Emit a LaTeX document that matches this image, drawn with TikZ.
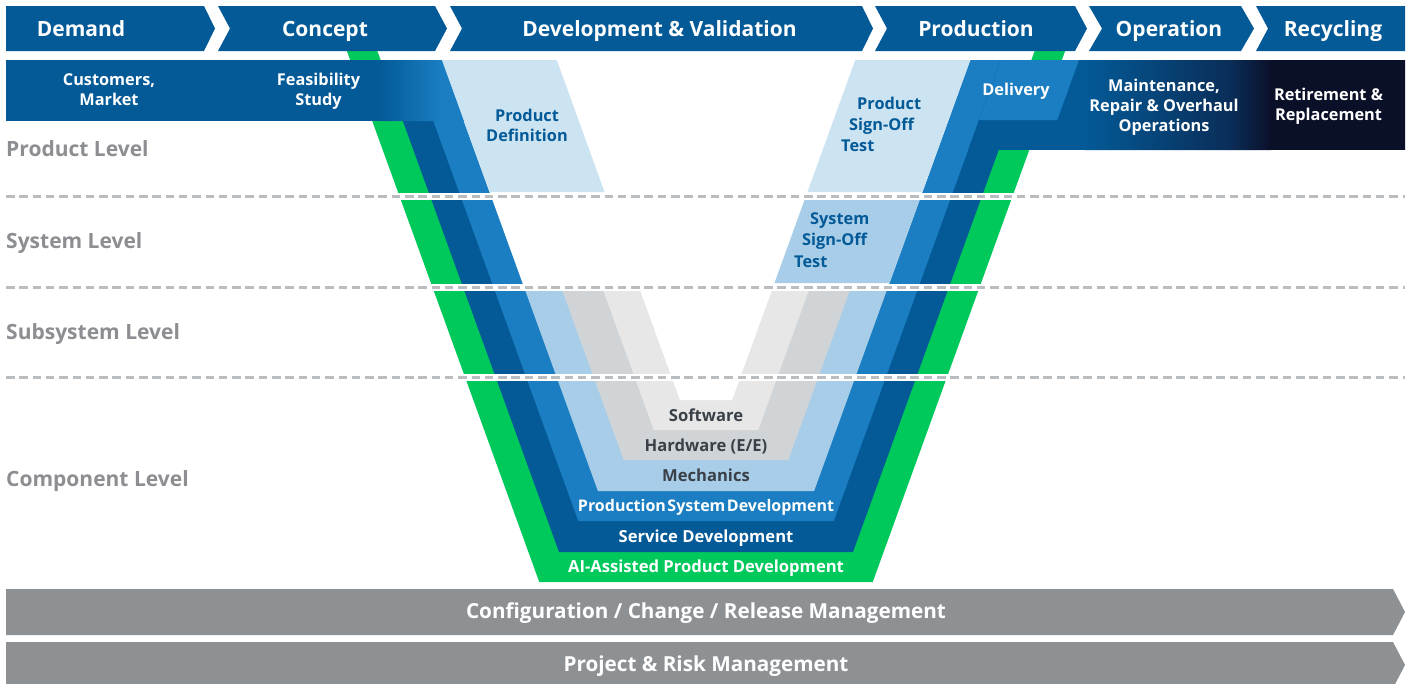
\documentclass[tikz,border=0pt]{standalone}
\usepackage{fontspec}
\IfFontExistsTF{Open Sans Bold}
 {\setmainfont{Open Sans}[BoldFont={Open Sans Bold}]}
 {\IfFontExistsTF{NotoSans-Bold.otf}
   {\setmainfont{NotoSans}[Extension=.otf,UprightFont=*-Regular,BoldFont=*-Bold]}
   {\setmainfont{Noto Sans}[BoldFont={Noto Sans},BoldFeatures={FakeBold=3.5}]}}
\definecolor{dblue}{RGB}{3,90,151}
\definecolor{mblue}{RGB}{27,126,194}
\definecolor{lblue}{RGB}{167,205,232}
\definecolor{pblue}{RGB}{204,227,242}
\definecolor{sgray}{RGB}{208,212,215}
\definecolor{lgray}{RGB}{231,231,231}
\definecolor{vgreen}{RGB}{0,201,92}
\definecolor{navy}{RGB}{11,16,41}
\definecolor{midnavy}{RGB}{10,45,88}
\definecolor{bargray}{RGB}{142,145,148}
\definecolor{lvlgray}{RGB}{140,142,145}
\definecolor{dtext}{RGB}{58,64,71}
\definecolor{dashgray}{RGB}{186,189,192}
% nested V layer: #1 = offset a, #2 = bottom y, #3 = colour
\newcommand{\Vtrap}[3]{\fill[#3] (#1,0) -- ({#1+0.3623*#2},#2) -- ({1412-#1-0.3623*#2},#2) -- ({1412-#1},0) -- cycle;}
% left parallelogram between offsets #1,#2 from y=#3 to y=#4
\newcommand{\Vlpar}[5]{\fill[#5] ({#1+0.3623*#3},#3) -- ({#2+0.3623*#3},#3) -- ({#2+0.3623*#4},#4) -- ({#1+0.3623*#4},#4) -- cycle;}
% right parallelogram
\newcommand{\Vrpar}[5]{\fill[#5] ({1412-#1-0.3623*#3},#3) -- ({1412-#2-0.3623*#3},#3) -- ({1412-#2-0.3623*#4},#4) -- ({1412-#1-0.3623*#4},#4) -- cycle;}
\newcommand{\Vall}{\Vtrap{328.4}{582}{vgreen}\Vtrap{359}{552}{dblue}\Vtrap{389.5}{521}{mblue}\Vtrap{420}{491}{lblue}\Vtrap{457}{460}{sgray}\Vtrap{498}{430}{lgray}\Vtrap{535}{400}{white}}
\newcommand{\Vthree}{\Vtrap{328.4}{582}{vgreen}\Vtrap{359}{552}{dblue}\Vtrap{389.5}{521}{mblue}\Vtrap{420}{491}{white}}
\begin{document}
\begin{tikzpicture}[x=1pt,y=-1pt,
  phase/.style={font=\fontsize{21}{25}\selectfont\bfseries,text=white,inner sep=0pt,anchor=base},
  subw/.style={font=\fontsize{16.3}{20}\selectfont\bfseries,text=white,inner sep=0pt,anchor=base},
  subb/.style={font=\fontsize{16.3}{20}\selectfont\bfseries,text=dblue,inner sep=0pt,anchor=base},
  subbl/.style={subb,anchor=base west},
  lvl/.style={font=\fontsize{21}{25}\selectfont\bfseries,text=lvlgray,inner sep=0pt,anchor=base west},
  vlab/.style={font=\fontsize{16.6}{20}\selectfont\bfseries,inner sep=0pt,anchor=base},
  barlab/.style={font=\fontsize{20.7}{24}\selectfont\bfseries,text=white,inner sep=0pt,anchor=base},
  lvline/.style={dashgray,line width=3pt,dash pattern=on 8.5pt off 4.8pt}]
\useasboundingbox (0,0) rectangle (1410,683);
\fill[white] (0,0) rectangle (1410,683);

% ---------- V: gap above band ----------
\begin{scope}\clip (0,50) rectangle (1410,60);
\Vtrap{328.4}{582}{vgreen}\Vtrap{359}{552}{white}
\end{scope}
% ---------- Product level ----------
\begin{scope}\clip (0,60) rectangle (1410,192);
\Vthree
\Vlpar{420}{535}{60}{192}{pblue}
\Vrpar{535}{420}{60}{192}{pblue}
\end{scope}
% ---------- System level ----------
\begin{scope}\clip (0,200) rectangle (1410,283);
\Vthree
\Vrpar{535}{420}{200}{283}{lblue}
\end{scope}
% ---------- Subsystem level ----------
\begin{scope}\clip (0,291) rectangle (1410,373);
\Vall
\end{scope}
% ---------- Component level ----------
\begin{scope}\clip (0,381) rectangle (1410,600);
\Vall
\end{scope}

% ---------- left band ----------
\begin{scope}
\clip (6,60) -- ({420+0.3623*60},60) -- ({420+0.3623*121},121) -- (6,121) -- cycle;
\fill[dblue] (0,60) rectangle (381,121);
\shade[left color=dblue,right color=mblue] (380,60) rectangle (441,121);
\fill[mblue] (440,60) rectangle (480,121);
\end{scope}
% ---------- right band ----------
\begin{scope}
\clip ({1412-389.5-0.3623*60},60) -- (1405,60) -- (1405,150) -- ({1412-389.5-0.3623*150},150) -- cycle;
\fill[dblue] (950,60) rectangle (1086,150);
\shade[left color=dblue,right color=midnavy] (1085,60) rectangle (1231,150);
\shade[left color=midnavy,right color=navy] (1230,60) rectangle (1271,150);
\fill[navy] (1270,60) rectangle (1410,150);
\end{scope}
% Delivery
\fill[mblue] ({1412-389.5-0.3623*60},60) -- ({1412-311.3-0.3623*60},60) -- ({1412-311.3-0.3623*120},120) -- ({1412-389.5-0.3623*120},120) -- cycle;

% ---------- phase chevrons ----------
\fill[dblue] (6,6) -- (204,6) -- (215,28.5) -- (204,51) -- (6,51) -- cycle;
\fill[dblue] (218,6) -- (435,6) -- (447,28.5) -- (435,51) -- (218,51) -- (230,28.5) -- cycle;
\fill[dblue] (450,6) -- (862,6) -- (873,28.5) -- (862,51) -- (450,51) -- (462,28.5) -- cycle;
\fill[dblue] (875,6) -- (1075,6) -- (1087,28.5) -- (1075,51) -- (875,51) -- (887,28.5) -- cycle;
\fill[dblue] (1089,6) -- (1241,6) -- (1254,28.5) -- (1241,51) -- (1089,51) -- (1102,28.5) -- cycle;
\fill[dblue] (1256,6) -- (1405,6) -- (1405,51) -- (1256,51) -- (1268,28.5) -- cycle;
\node[phase] (ph1) at (81,36.3) {Demand};
\node[phase] (ph2) at (325,36.3) {Concept};
\node[phase] (ph3) at (659.5,36.3) {Development \& Validation};
\node[phase] (ph4) at (976,36.3) {Production};
\node[phase] (ph5) at (1169,36.3) {Operation};
\node[phase] (ph6) at (1333,36.3) {Recycling};

% ---------- dashed level lines ----------
\draw[lvline] (6,196) -- (1405,196);
\draw[lvline] (6,287) -- (1405,287);
\draw[lvline] (6,377) -- (1405,377);

% ---------- bottom bars ----------
\fill[bargray] (6,589) -- (1393,589) -- (1405,612) -- (1393,635) -- (6,635) -- cycle;
\fill[bargray] (6,642) -- (1393,642) -- (1405,665) -- (1393,688) -- (6,688) -- cycle;
\node[barlab] (bar1) at (706,618.3) {Configuration / Change / Release Management};
\node[barlab] (bar2) at (706,671.3) {Project \& Risk Management};

% ---------- level labels ----------
\node[lvl] (lv1) at (6,156) {Product Level};
\node[lvl] (lv2) at (6,248) {System Level};
\node[lvl] (lv3) at (6,339) {Subsystem Level};
\node[lvl] (lv4) at (6,486) {Component Level};

% ---------- second row labels ----------
\node[subw] (cm1) at (109,85) {Customers,};
\node[subw] (cm2) at (109,105) {Market};
\node[subw] (fs1) at (318.5,85) {Feasibility};
\node[subw] (fs2) at (318.5,105) {Study};
\node[subb] (pd1) at (527,121.5) {Product};
\node[subb] (pd2) at (527,141.5) {Definition};
\node[subbl] (ps1) at (857,109.7) {Product};
\node[subbl] (ps2) at (849,130.7) {Sign-Off};
\node[subbl] (ps3) at (841,151.7) {Test};
\node[subbl] (ss1) at (810,224.7) {System};
\node[subbl] (ss2) at (802,245.7) {Sign-Off};
\node[subbl] (ss3) at (794,267.7) {Test};
\node[subw] (dl) at (1016,95) {Delivery};
\node[subw] (mr1) at (1164,91) {Maintenance,};
\node[subw] (mr2) at (1164,111) {Repair \& Overhaul};
\node[subw] (mr3) at (1164,131) {Operations};
\node[subw] (rr1) at (1328.5,100.5) {Retirement \&};
\node[subw] (rr2) at (1328.5,120.5) {Replacement};

% ---------- V labels ----------
\node[vlab,text=dtext] (v1) at (706,421.3) {Software};
\node[vlab,text=dtext] (v2) at (706,451.3) {Hardware (E/E)};
\node[vlab,text=dtext] (v3) at (706,481.3) {Mechanics};
\node[vlab,text=white,font=\fontsize{16}{20}\selectfont\bfseries] (v4) at (706,511.3) {Production\hspace{1.5pt}System\hspace{1.5pt}Development};
\node[vlab,text=white] (v5) at (706,542.3) {Service Development};
\node[vlab,text=white] (v6) at (706,572.3) {AI-Assisted Product Development};
\end{tikzpicture}
\end{document}
